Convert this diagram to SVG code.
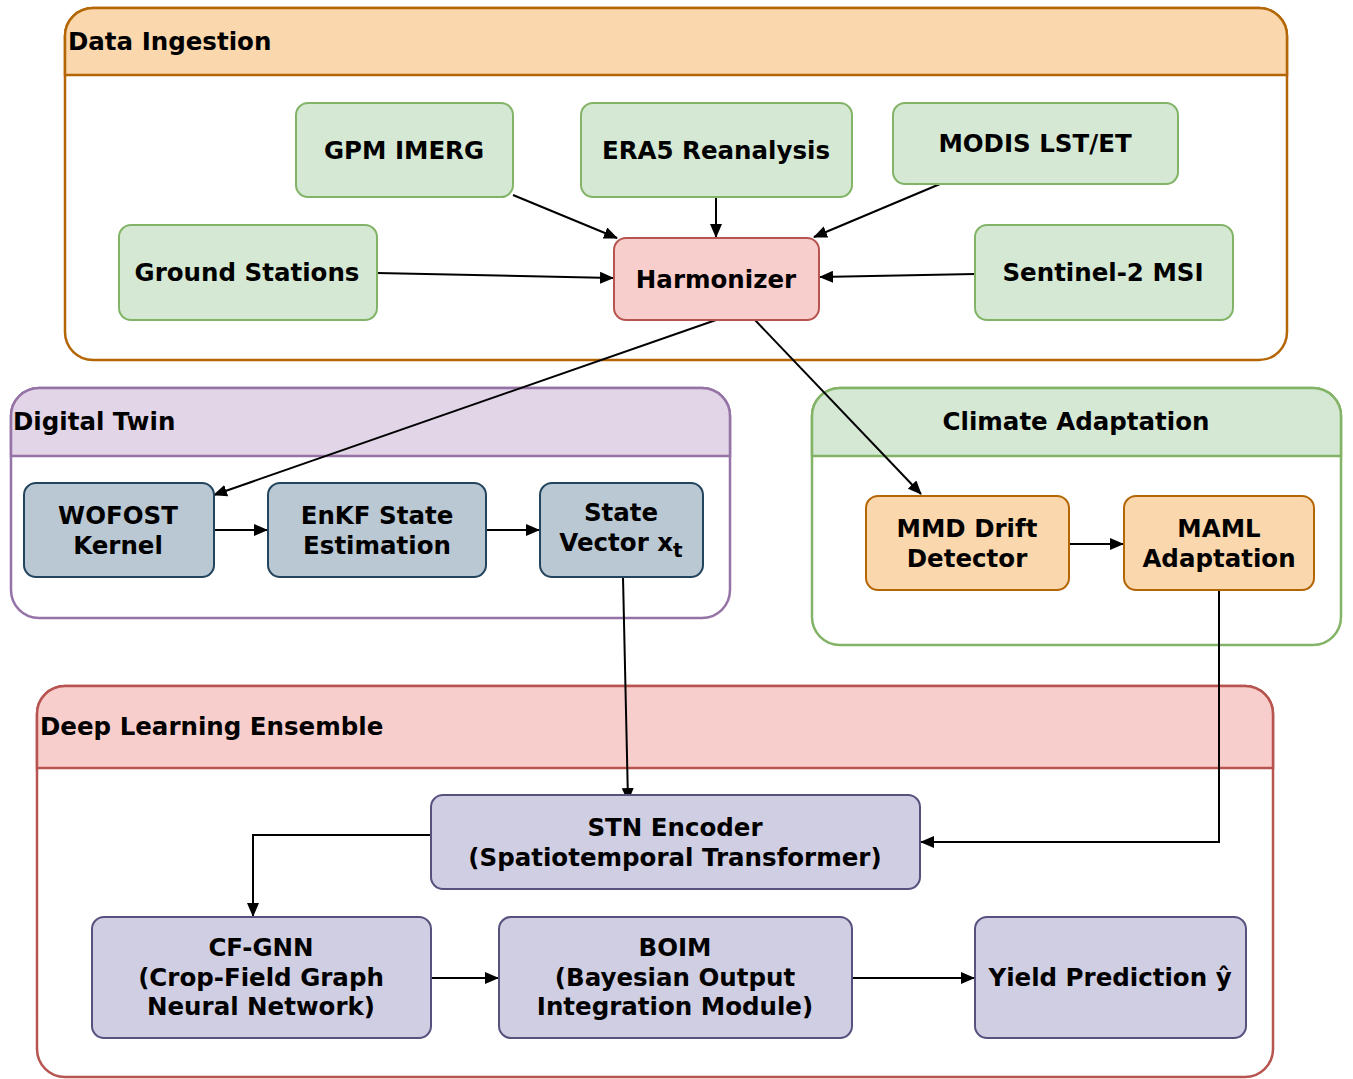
<svg xmlns="http://www.w3.org/2000/svg" width="1353" height="1079" viewBox="0 0 1353 1079">
<defs>
<marker id="arr" markerWidth="14" markerHeight="12" refX="13" refY="6" orient="auto" markerUnits="userSpaceOnUse">
<path d="M0,0 L14,6 L0,12 Z" fill="#000"/>
</marker>
<style>
text{font-family:"DejaVu Sans",Verdana,sans-serif;font-weight:bold;font-size:24.5px;fill:#000}
.c{text-anchor:middle}
.cont{stroke-width:2.5}
.node{stroke-width:2}
.g{fill:#d5e8d4;stroke:#82b366}
.r{fill:#f8cecc;stroke:#b85450}
.o{fill:#fad7ac;stroke:#b46504}
.b{fill:#bac8d3;stroke:#23445d}
.p{fill:#d0cee2;stroke:#56517e}
.edge{stroke:#000;stroke-width:2;fill:none;marker-end:url(#arr)}
</style>
</defs>
<rect width="1353" height="1079" fill="#fff"/>

<g id="data-ingestion">
<rect x="65" y="8" width="1222" height="352" rx="28" fill="#fff" stroke="#b46504" class="cont"/>
<path d="M65,75 V36 A28,28 0 0 1 93,8 H1259 A28,28 0 0 1 1287,36 V75 Z" fill="#fad7ac" stroke="#b46504" class="cont"/>
<text x="68" y="50">Data Ingestion</text>
</g>

<g id="digital-twin">
<rect x="11" y="388" width="719" height="230" rx="28" fill="#fff" stroke="#9673a6" class="cont"/>
<path d="M11,456 V416 A28,28 0 0 1 39,388 H702 A28,28 0 0 1 730,416 V456 Z" fill="#e1d5e7" stroke="#9673a6" class="cont"/>
<text x="13" y="430">Digital Twin</text>
</g>

<g id="climate-adaptation">
<rect x="812" y="388" width="529" height="257" rx="28" fill="#fff" stroke="#82b366" class="cont"/>
<path d="M812,456 V416 A28,28 0 0 1 840,388 H1313 A28,28 0 0 1 1341,416 V456 Z" fill="#d5e8d4" stroke="#82b366" class="cont"/>
<text x="1076" y="430" class="c">Climate Adaptation</text>
</g>

<g id="deep-learning-ensemble">
<rect x="37" y="686" width="1236" height="391" rx="28" fill="#fff" stroke="#b85450" class="cont"/>
<path d="M37,768 V714 A28,28 0 0 1 65,686 H1245 A28,28 0 0 1 1273,714 V768 Z" fill="#f8cecc" stroke="#b85450" class="cont"/>
<text x="40" y="735">Deep Learning Ensemble</text>
</g>

<g id="connectors">
<path class="edge" d="M513,195 L617,238"/>
<path class="edge" d="M716,197 L716,237"/>
<path class="edge" d="M940,184 L814,237"/>
<path class="edge" d="M377,273 L613,278"/>
<path class="edge" d="M975,274 L820,277"/>
<path class="edge" d="M716,320 L214,495"/>
<path class="edge" d="M755,320 L921,494"/>
<path class="edge" d="M214,530 L267,530"/>
<path class="edge" d="M486,530 L539,530"/>
<path class="edge" d="M623,577 L628,801"/>
<path class="edge" d="M1069,544 L1123,544"/>
<path class="edge" d="M1219,590 L1219,842 L921,842"/>
<path class="edge" d="M431,835 L253,835 L253,916"/>
<path class="edge" d="M431,978 L498,978"/>
<path class="edge" d="M852,978 L974,978"/>
</g>

<g id="gpm-imerg">
<rect x="296" y="103" width="217" height="94" rx="12" class="node g"/>
<text x="404" y="159" class="c">GPM IMERG</text>
</g>
<g id="era5">
<rect x="581" y="103" width="271" height="94" rx="12" class="node g"/>
<text x="716" y="159" class="c">ERA5 Reanalysis</text>
</g>
<g id="modis">
<rect x="893" y="103" width="285" height="81" rx="12" class="node g"/>
<text x="1035" y="152" class="c">MODIS LST/ET</text>
</g>
<g id="ground-stations">
<rect x="119" y="225" width="258" height="95" rx="12" class="node g"/>
<text x="247" y="281" class="c">Ground Stations</text>
</g>
<g id="harmonizer">
<rect x="614" y="238" width="205" height="82" rx="12" class="node r"/>
<text x="716" y="288" class="c">Harmonizer</text>
</g>
<g id="sentinel">
<rect x="975" y="225" width="258" height="95" rx="12" class="node g"/>
<text x="1103" y="281" class="c">Sentinel-2 MSI</text>
</g>

<g id="wofost">
<rect x="24" y="483" width="190" height="94" rx="12" class="node b"/>
<text x="118" y="524" class="c">WOFOST</text>
<text x="118" y="554" class="c">Kernel</text>
</g>
<g id="enkf">
<rect x="268" y="483" width="218" height="94" rx="12" class="node b"/>
<text x="377" y="524" class="c">EnKF State</text>
<text x="377" y="554" class="c">Estimation</text>
</g>
<g id="state-vector">
<rect x="540" y="483" width="163" height="94" rx="12" class="node b"/>
<text x="621" y="521" class="c">State</text>
<text x="621" y="551" class="c">Vector x<tspan dy="6" font-size="20">t</tspan></text>
</g>

<g id="mmd">
<rect x="866" y="496" width="203" height="94" rx="12" class="node o"/>
<text x="967" y="537" class="c">MMD Drift</text>
<text x="967" y="567" class="c">Detector</text>
</g>
<g id="maml">
<rect x="1124" y="496" width="190" height="94" rx="12" class="node o"/>
<text x="1219" y="537" class="c">MAML</text>
<text x="1219" y="567" class="c">Adaptation</text>
</g>

<g id="stn">
<rect x="431" y="795" width="489" height="94" rx="12" class="node p"/>
<text x="675" y="836" class="c">STN Encoder</text>
<text x="675" y="866" class="c">(Spatiotemporal Transformer)</text>
</g>
<g id="cf-gnn">
<rect x="92" y="917" width="339" height="121" rx="12" class="node p"/>
<text x="261" y="956" class="c">CF-GNN</text>
<text x="261" y="986" class="c">(Crop-Field Graph</text>
<text x="261" y="1015" class="c">Neural Network)</text>
</g>
<g id="boim">
<rect x="499" y="917" width="353" height="121" rx="12" class="node p"/>
<text x="675" y="956" class="c">BOIM</text>
<text x="675" y="986" class="c">(Bayesian Output</text>
<text x="675" y="1015" class="c">Integration Module)</text>
</g>
<g id="yield">
<rect x="975" y="917" width="271" height="121" rx="12" class="node p"/>
<text x="1110" y="986" class="c">Yield Prediction ŷ</text>
</g>
</svg>
